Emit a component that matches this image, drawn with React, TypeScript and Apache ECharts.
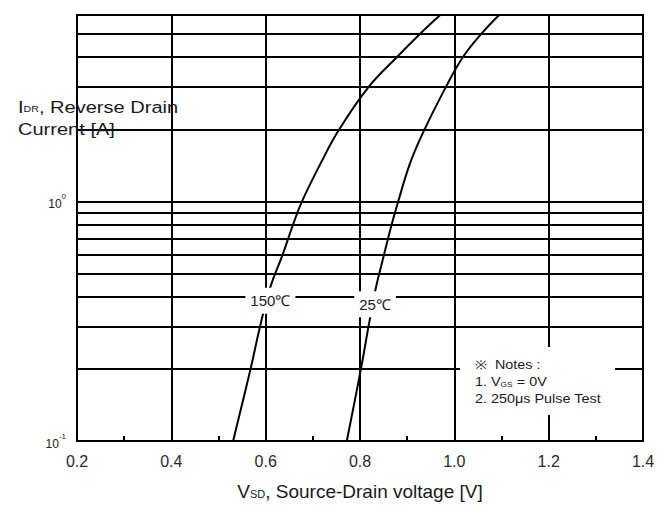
import React, { useEffect, useRef } from "react";
import * as echarts from "echarts";

// X axis (V_SD, volts)
const xMin = 0.2;
const xMax = 1.4;
const xStep = 0.2;
// Y axis (I_DR, amperes, log scale)
const yMin = 0.1;
const yMax = 6;
const yMinorGrid = [0.2, 0.3, 0.4, 0.5, 0.6, 0.7, 0.8, 0.9, 2, 3, 4, 5];

// 150 degC curve
const v150 = [0.531, 0.568, 0.588, 0.61, 0.636, 0.658, 0.677, 0.718, 0.756, 0.818, 0.878, 0.927, 0.97];
const i150 = [0.1, 0.2, 0.3, 0.44, 0.6, 0.8, 1.0, 1.46, 2, 3, 4, 5, 6];

// 25 degC curve
const v25 = [0.772, 0.802, 0.818, 0.833, 0.851, 0.867, 0.881, 0.907, 0.937, 0.982, 1.018, 1.057, 1.095];
const i25 = [0.1, 0.2, 0.3, 0.43, 0.6, 0.8, 1.0, 1.46, 2, 3, 4, 5, 6];

// curve labels [V, I]
const label150 = { text: "150℃", at: [0.61, 0.385] };
const label25 = { text: "25℃", at: [0.832, 0.372] };

const notes = ["※  Notes :", "1. V{s|GS} = 0V", "2. 250μs Pulse Test"];

const FONT = "'Liberation Sans', Arial, sans-serif";
const INK = "#1a1a1a";

export default function App() {
  const ref = useRef<HTMLDivElement>(null);

  useEffect(() => {
    if (!ref.current) return;
    const chart = echarts.init(ref.current, undefined, { renderer: "svg" });

    const curveLabel = (lab: { text: string; at: number[] }) => ({
      symbol: "rect",
      symbolSize: 0,
      silent: true,
      z: 20,
      label: {
        show: true,
        position: "inside",
        formatter: lab.text,
        color: INK,
        fontFamily: FONT,
        fontSize: 15,
        backgroundColor: "#fff",
        padding: [6, 5, 5, 5],
      },
      data: [{ coord: lab.at }],
    });

    const option: any = {
      animation: false,
      backgroundColor: "#fff",
      grid: {
        left: 77,
        right: 27,
        top: 15,
        bottom: 64,
        show: true,
        borderColor: "#000",
        borderWidth: 2,
        backgroundColor: "transparent",
      },
      xAxis: {
        type: "value",
        min: xMin,
        max: xMax,
        interval: xStep,
        name: "V{s|SD}, Source-Drain voltage [V]",
        nameLocation: "middle",
        nameGap: 41,
        nameTextStyle: {
          fontFamily: FONT,
          fontSize: 19,
          color: INK,
          rich: {
            s: { fontSize: 11, fontFamily: FONT, color: INK, verticalAlign: "bottom", padding: [0, 0, 2, 0] },
          },
        },
        axisLine: { show: true, lineStyle: { color: "#000", width: 2 } },
        axisTick: { show: true, inside: true, length: 5, lineStyle: { color: "#000", width: 2 } },
        minorTick: { show: true, splitNumber: 2, length: 5, lineStyle: { color: "#000", width: 2 } },
        splitLine: { show: true, lineStyle: { color: "#000", width: 2 } },
        axisLabel: {
          margin: 12,
          fontFamily: FONT,
          fontSize: 16,
          color: "#2a2a2a",
          formatter: (v: number) => v.toFixed(1),
        },
      },
      yAxis: {
        type: "log",
        logBase: 10,
        min: yMin,
        max: yMax,
        axisLine: { show: true, lineStyle: { color: "#000", width: 2 } },
        axisTick: { show: false },
        splitLine: { show: true, lineStyle: { color: "#000", width: 2 } },
        axisLabel: {
          margin: 11,
          color: INK,
          fontFamily: FONT,
          formatter: (v: number) => {
            if (Math.abs(v - 1) < 1e-6) return "{b|10}{s|0}";
            if (Math.abs(v - 0.1) < 1e-7) return "{b|10}{s|-1}";
            return "";
          },
          rich: {
            b: { fontSize: 12, fontFamily: FONT, color: INK, padding: [5, 0, 0, 0] },
            s: { fontSize: 8, fontFamily: FONT, color: INK, verticalAlign: "top" },
          },
        },
      },
      graphic: [
        {
          type: "text",
          x: 18,
          y: 107,
          z: 50,
          scaleX: 1.18,
          style: {
            text: "{a|I}{b|DR}{a|, Reverse Drain}",
            verticalAlign: "middle",
            rich: {
              a: { fontSize: 17, fontFamily: FONT, fill: INK, color: INK },
              b: { fontSize: 9, fontFamily: FONT, fill: INK, color: INK, verticalAlign: "bottom", padding: [0, 0, 2, 0] },
            },
          },
        },
        {
          type: "text",
          x: 18,
          y: 129,
          z: 50,
          scaleX: 1.18,
          style: {
            text: "Current [A]",
            fontSize: 17,
            fontFamily: FONT,
            fill: INK,
            verticalAlign: "middle",
          },
        },
        {
          type: "rect",
          z: 40,
          silent: true,
          shape: { x: 460, y: 347, width: 155, height: 68 },
          style: { fill: "#fff" },
        },
        ...notes.map((t, i) => ({
          type: "text",
          x: 475,
          y: 365 + i * 17,
          z: 50,
          scaleX: 1.2,
          style: {
            text: "{a|" + t.replace("{s|GS}", "}{s|GS}{a|") + "}",
            verticalAlign: "middle",
            rich: {
              a: { fontSize: 12, fontFamily: FONT, fill: INK, color: INK },
              s: { fontSize: 7, fontFamily: FONT, fill: INK, color: INK, verticalAlign: "bottom" },
            },
          },
        })),
      ],
      series: [
        {
          name: "grid",
          type: "line",
          data: [],
          silent: true,
          z: 1,
          markLine: {
            silent: true,
            symbol: ["none", "none"],
            label: { show: false },
            lineStyle: { color: "#000", width: 2, type: "solid" },
            data: yMinorGrid.map((y) => ({ yAxis: y })),
          },
        },
        {
          name: "150℃",
          type: "line",
          data: v150.map((v, i) => [v, i150[i]]),
          showSymbol: false,
          symbol: "none",
          smooth: 0.4,
          z: 3,
          lineStyle: { color: "#000", width: 2 },
          markPoint: curveLabel(label150),
        },
        {
          name: "25℃",
          type: "line",
          data: v25.map((v, i) => [v, i25[i]]),
          showSymbol: false,
          symbol: "none",
          smooth: 0.4,
          z: 3,
          lineStyle: { color: "#000", width: 2 },
          markPoint: curveLabel(label25),
        },
      ],
    };

    chart.setOption(option);
    return () => chart.dispose();
  }, []);

  return (
    <div
      ref={ref}
      style={{ position: "fixed", left: 0, top: 0, width: 670, height: 506, background: "#fff" }}
    />
  );
}
